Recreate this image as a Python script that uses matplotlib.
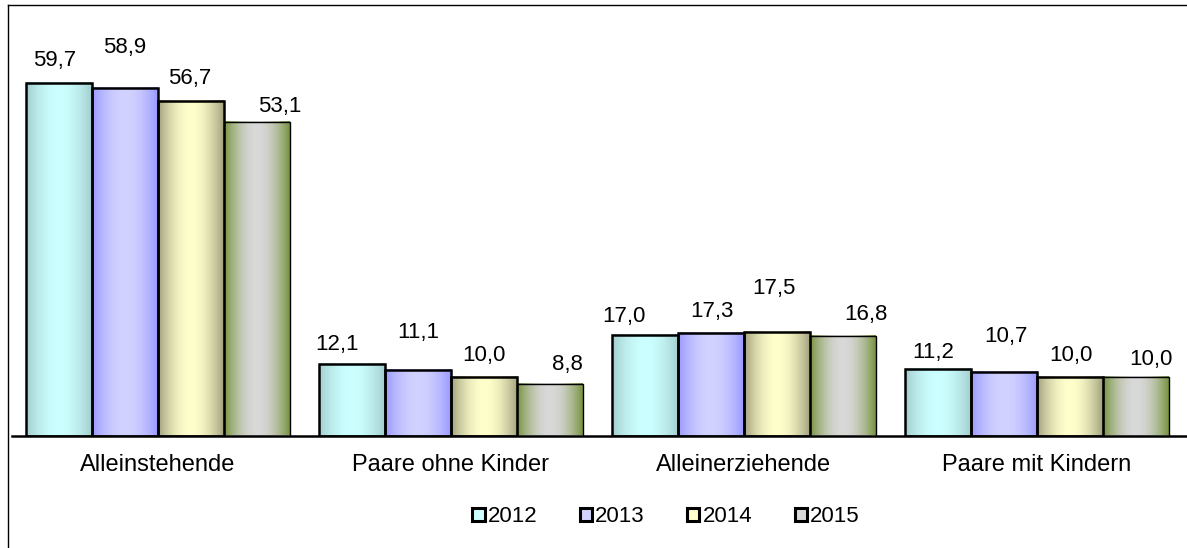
import numpy as np
import matplotlib
matplotlib.use("Agg")
import matplotlib.pyplot as plt
from matplotlib.lines import Line2D
from matplotlib.patches import Patch
from matplotlib.colors import to_rgb

categories = ["Alleinstehende", "Paare ohne Kinder", "Alleinerziehende", "Paare mit Kindern"]
years = ["2012", "2013", "2014", "2015"]
values = {
    "2012": [59.7, 12.1, 17.0, 11.2],
    "2013": [58.9, 11.1, 17.3, 10.7],
    "2014": [56.7, 10.0, 17.5, 10.0],
    "2015": [53.1, 8.8, 16.8, 10.0],
}

# label placement (pixel offsets of the label baseline centre from the bar top centre)
label_dx = {
    "2012": [-4, -15, -21, -5],
    "2013": [0, 0, 1, 2],
    "2014": [-1, 0, -3, 1],
    "2015": [23, 17, 23, 15],
}
label_dy = {
    "2012": [17, 14, 13, 11],
    "2013": [35, 32, 16, 30],
    "2014": [17, 16, 38, 16],
    "2015": [10, 14, 16, 11],
}

edge_cols = {"2012": "#a2cccc", "2013": "#9999ff", "2014": "#a09f7e", "2015": "#76923c"}
center_cols = {"2012": "#ccffff", "2013": "#d2d2ff", "2014": "#ffffcc", "2015": "#d9d9d9"}
outline_w = {"2012": 1.8, "2013": 1.8, "2014": 1.8, "2015": 1.0}

plt.rcParams['font.family'] = ['Liberation Sans', 'DejaVu Sans']

W, H = 1187, 548
PT = 72 / 100  # points per pixel
fig = plt.figure(figsize=(W / 100, H / 100), dpi=100)
ax_left, ax_right = 11.5, 1187
ax_bottom = H - 435.5
ymax = 70
px_per_unit = 5.9
ax_h = ymax * px_per_unit
ax = fig.add_axes([ax_left / W, ax_bottom / H, (ax_right - ax_left) / W, ax_h / H])

cat_px = 293.0
bw = 66 / cat_px
x = np.arange(len(categories))


def gradient(edge, center, n=200):
    t = np.linspace(0, 1, n)
    w = np.sin(np.pi * t) ** 0.9
    e = np.array(to_rgb(edge)); c = np.array(to_rgb(center))
    return (e[None, :] + (c - e)[None, :] * w[:, None])[None, :, :]


for i, yr in enumerate(years):
    offs = (i - 1.5) * bw
    bars = ax.bar(x + offs, values[yr], width=bw, facecolor="none",
                  edgecolor="black", linewidth=outline_w[yr], zorder=3)
    grad = gradient(edge_cols[yr], center_cols[yr])
    for j, (b, v) in enumerate(zip(bars, values[yr])):
        x0 = b.get_x(); x1 = x0 + b.get_width()
        ax.imshow(grad, extent=[x0, x1, 0, b.get_height()], aspect="auto",
                  interpolation="bilinear", zorder=2)
        ax.annotate(f"{v:.1f}".replace(".", ","), (b.get_x() + b.get_width() / 2, v),
                    xytext=(label_dx[yr][j] * PT, label_dy[yr][j] * PT),
                    textcoords="offset points", ha="center",
                    va="baseline", fontsize=16)

right_lim = -0.5 + (ax_right - ax_left) / cat_px
ax.set_xlim(-0.5, right_lim)
ax.set_ylim(0, ymax)
ax.set_xticks(x)
ax.set_xticklabels(categories, fontsize=17)
ax.tick_params(axis="x", length=0, pad=13)
ax.set_yticks([])
for s in ["top", "right", "left"]:
    ax.spines[s].set_visible(False)
ax.spines["bottom"].set_linewidth(1.8)
ax.patch.set_alpha(0)

handles = [Patch(facecolor=center_cols[yr], edgecolor="black", linewidth=2.2) for yr in years]
leg = fig.legend(handles, years, loc="center", bbox_to_anchor=(666 / W, 1 - 517 / H),
                 ncol=4, frameon=False, fontsize=16, handlelength=0.55, handleheight=0.55,
                 handletextpad=0.15, columnspacing=1.9, borderaxespad=0, borderpad=0)

fig.add_artist(Line2D([7.5 / W, 7.5 / W], [0, 1 - 4.5 / H], color="black", lw=1.0,
                      transform=fig.transFigure))
fig.add_artist(Line2D([7.5 / W, 1], [1 - 4.5 / H, 1 - 4.5 / H], color="black", lw=1.0,
                      transform=fig.transFigure))

fig.savefig("out.png", dpi=100)
